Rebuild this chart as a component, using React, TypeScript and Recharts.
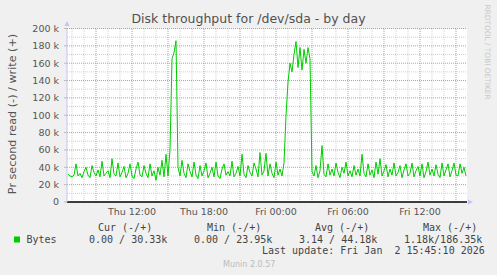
import React from 'react';
import { LineChart, Line, XAxis, YAxis, ReferenceLine, ReferenceArea } from 'recharts';

// write (+) throughput in k bytes/s, one sample every 10 minutes starting Thu 06:40
const writeK: number[] = [
  32, 30, 29, 31, 44, 30, 33, 28, 35, 40,
  31, 28, 42, 34, 30, 37, 29, 47, 30, 33,
  36, 28, 50, 32, 30, 45, 29, 34, 41, 28,
  33, 44, 30, 27, 38, 46, 31, 29, 42, 33,
  28, 44, 30, 36, 25, 40, 31, 48, 29, 55,
  30, 60, 165, 172, 186, 40,
  30, 48, 33, 28, 44, 35, 29, 46, 31, 27,
  42, 30, 36, 45, 28, 33, 40, 29, 46, 30,
  27, 38, 44, 31, 35, 30, 47, 29, 33, 41,
  30, 55, 32, 28, 42, 34, 30, 45, 38, 29,
  57, 31, 36, 56,
  30, 44, 33, 28, 46, 31, 38, 30, 45,
  100, 138, 160, 150, 170, 185, 155, 178, 152, 176, 160, 178, 165,
  35, 30, 42, 28, 36, 65, 32, 29, 44, 31, 38,
  30, 45, 34, 28, 40, 33, 46, 30, 36, 29,
  42, 31, 38, 30, 55, 33, 29, 44, 31, 37,
  28, 46, 32, 50, 30, 36, 43, 29, 38, 31,
  45, 30, 34, 42, 28, 37, 44, 30, 33, 45,
  29, 36, 41, 30, 44, 28, 35, 46, 31, 38,
  30, 43, 32, 28, 45, 30, 37, 44, 29, 36,
  45, 31, 30, 44, 33, 40, 30,
];

const startHour = 6 + 40 / 60; // Thu 06:40, hours since Thu 00:00
const stepHour = 10 / 60;
const domainX: [number, number] = [6.5833, 39.9167];

const xTicks = [12, 18, 24, 30, 36];
const xTickLabels = ['Thu 12:00', 'Thu 18:00', 'Fri 00:00', 'Fri 06:00', 'Fri 12:00'];
const yTicks = [0, 20, 40, 60, 80, 100, 120, 140, 160, 180, 200];
const yMinor = [10, 30, 50, 70, 90, 110, 130, 150, 170, 190];
const yMajor = [20, 40, 60, 80, 100, 120, 140, 160, 180, 200];
const xMajor = [9, 12, 15, 18, 21, 24, 27, 30, 33, 36, 39];
const xMinor = [7, 8, 10, 11, 13, 14, 16, 17, 19, 20, 22, 23, 25, 26, 28, 29, 31, 32, 34, 35, 37, 38];

const legendHeaders = ['Cur (-/+)', 'Min (-/+)', 'Avg (-/+)', 'Max (-/+)'];
const legendValues = ['0.00 / 30.33k', '0.00 / 23.95k', '3.14 / 44.18k', '1.18k/186.35k'];
const headerX = [98, 207, 315, 423];
const valueX = [89, 194, 299, 404];

const data = writeK.map((v, i) => ({ t: startHour + i * stepHour, w: v }));

const minorColor = '#D0D0D0';
const majorColor = '#E58A8A';
const axisBlue = '#C4C4F2';

export default function App() {
  const sans = 'DejaVu Sans, sans-serif';
  const mono = 'DejaVu Sans Mono, monospace';
  return (
    <div style={{ position: 'absolute', left: 0, top: 0, width: 497, height: 275, background: '#F0F0F0' }}>
      <LineChart width={497} height={275} data={data} margin={{ top: 28.5, right: 30, bottom: 0, left: 0 }}>
        <XAxis
          dataKey="t"
          type="number"
          domain={domainX}
          ticks={xTicks}
          allowDataOverflow
          height={73}
          tickLine={false}
          tickSize={0}
          tickMargin={6}
          axisLine={{ stroke: '#000', strokeWidth: 1 }}
          tick={{ fill: '#555', fontSize: 9.5, fontFamily: sans }}
          tickFormatter={(v: number) => xTickLabels[xTicks.indexOf(v)] ?? ''}
        />
        <YAxis
          type="number"
          domain={[0, 200]}
          ticks={yTicks}
          allowDataOverflow
          width={67}
          tickSize={3}
          tickMargin={5}
          tickLine={{ stroke: '#BBBBBB' }}
          axisLine={{ stroke: axisBlue }}
          tick={{ fill: '#555', fontSize: 9.5, fontFamily: sans }}
          tickFormatter={(v: number) => (v === 0 ? '0' : `${v} k`)}
        />
        <ReferenceArea x1={domainX[0]} x2={domainX[1]} y1={0} y2={200} fill="#FFFFFF" fillOpacity={1} stroke="none" ifOverflow="hidden" />
        {yMinor.map((v) => (
          <ReferenceLine key={'ym' + v} y={v} stroke={minorColor} strokeDasharray="1 1" />
        ))}
        {xMinor.map((v) => (
          <ReferenceLine key={'xm' + v} x={v} stroke={minorColor} strokeDasharray="1 1" />
        ))}
        {yMajor.map((v) => (
          <ReferenceLine key={'yM' + v} y={v} stroke={majorColor} strokeDasharray="1 1" />
        ))}
        {xMajor.map((v) => (
          <ReferenceLine key={'xM' + v} x={v} stroke={majorColor} strokeDasharray="1 1" />
        ))}
        <ReferenceLine y={0} stroke="#000" />
        <Line
          type="linear"
          dataKey="w"
          stroke="#00CC00"
          strokeWidth={1}
          dot={false}
          isAnimationActive={false}
        />
      </LineChart>
      <svg width={497} height={275} style={{ position: 'absolute', left: 0, top: 0, pointerEvents: 'none' }}>
        <text x={248.5} y={23} textAnchor="middle" fontFamily={sans} fontSize={12.5} fill="#505050">
          Disk throughput for /dev/sda - by day
        </text>
        <text
          x={12}
          y={114}
          transform="rotate(-90, 12, 114)"
          textAnchor="middle"
          dy="0.35em"
          fontFamily={sans}
          fontSize={11.2}
          fill="#555"
        >
          Pr second read (-) / write (+)
        </text>
        <text
          x={488}
          y={52}
          transform="rotate(90, 488, 52)"
          textAnchor="middle"
          dy="0.35em"
          fontFamily={sans}
          fontSize={7.4}
          fill="#C8C8C8"
        >
          RRDTOOL / TOBI OETIKER
        </text>
        <polygon points="64.5,26 69.5,26 67,21" fill={axisBlue} />
        <polygon points="468,199.5 468,204.5 473,202" fill={axisBlue} />
        <rect x={14} y={236.5} width={6} height={6} fill="#00CC00" />
        <text x={26.5} y={242.5} fontFamily={mono} fontSize={10} fill="#444">Bytes</text>
        {legendHeaders.map((h, i) => (
          <text key={h} x={headerX[i]} y={231} fontFamily={mono} fontSize={10} fill="#444" style={{ whiteSpace: 'pre' }}>
            {h}
          </text>
        ))}
        {legendValues.map((v, i) => (
          <text key={v} x={valueX[i]} y={242.5} fontFamily={mono} fontSize={10} fill="#444" style={{ whiteSpace: 'pre' }}>
            {v}
          </text>
        ))}
        <text x={262} y={254} fontFamily={mono} fontSize={10} fill="#444" style={{ whiteSpace: 'pre' }}>
          {'Last update: Fri Jan  2 15:45:10 2026'}
        </text>
        <text x={223} y={266.5} fontFamily={sans} fontSize={8} fill="#BBBBBB">Munin 2.0.57</text>
      </svg>
    </div>
  );
}
